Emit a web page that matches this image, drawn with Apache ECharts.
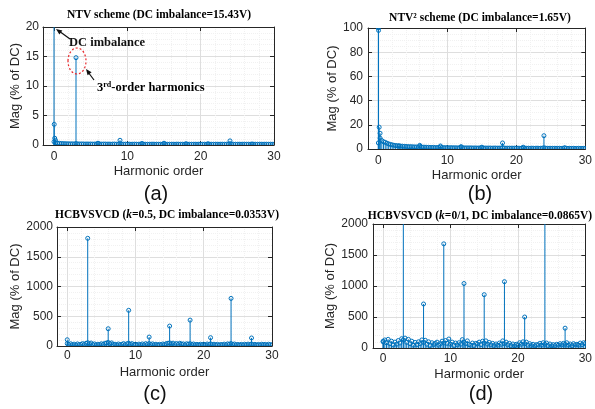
<!DOCTYPE html>
<html lang="en">
<head>
  <meta charset="UTF-8">
  <script src="https://cdn.jsdelivr.net/npm/echarts/dist/echarts.min.js"></script>
  <style>
    body { margin: 0; background: #ffffff; }
    #main { width: 595px; height: 409px; }
  </style>
</head>
<body>
  <div id="main"></div>
  <script>
    // harmonic order axis
    var harmonicStep = 0.25;          // spacing of the spectrum floor samples
    var xTicks = [0, 10, 20, 30];

    // (a) NTV scheme
    var noiseA = [
      0.55, 0.4, 0.32, 0.28,  0.26, 0.24, 0.22, 0.21,  0.2, 0.19, 0.2, 0.18,
      0.25, 0.19, 0.17, 0.18,  0.17, 0.16, 0.18, 0.16,  0.17, 0.15, 0.16, 0.17,
      0.24, 0.17, 0.15, 0.16,  0.16, 0.15, 0.16, 0.14,  0.15, 0.16, 0.14, 0.15,
      0.2, 0.15, 0.14, 0.15,  0.14, 0.15, 0.13, 0.14,  0.15, 0.14, 0.13, 0.15,
      0.2, 0.14, 0.13, 0.14,  0.13, 0.14, 0.15, 0.13,  0.14, 0.13, 0.14, 0.13,
      0.19, 0.14, 0.13, 0.14,  0.13, 0.14, 0.13, 0.15,  0.14, 0.13, 0.14, 0.13,
      0.17, 0.14, 0.13, 0.14,  0.13, 0.14, 0.13, 0.14,  0.14, 0.13, 0.14, 0.13,
      0.16, 0.14, 0.13, 0.14,  0.13, 0.14, 0.13, 0.14,  0.14, 0.13, 0.14, 0.15,
      0.18, 0.14, 0.13, 0.14,  0.13, 0.14, 0.13, 0.14,  0.14, 0.13, 0.14, 0.13,
      0.15, 0.14, 0.13, 0.14,  0.13, 0.14, 0.13, 0.14,  0.14, 0.13, 0.14, 0.13,
      0.13
    ];
    var peakXA = [0, 0.03, 0.1, 0.2, 3, 6, 9, 12, 15, 18, 21, 24, 27];
    var peakYA = [100, 3.5, 1.15, 0.8, 14.8, 0.3, 0.8, 0.25, 0.3, 0.2, 0.2, 0.7, 0.15];
    var yTicksA = [0, 5, 10, 15, 20];

    // (b) NTV^2 scheme
    var noiseB = [
      5, 9, 7, 6,  5.5, 4.8, 4.2, 3.8,  3.4, 3.1, 2.9, 2.7,
      2.6, 2.4, 2.3, 2.2,  2.1, 2.0, 1.9, 1.9,  1.8, 1.7, 1.7, 1.6,
      2.2, 1.6, 1.5, 1.5,  1.4, 1.4, 1.3, 1.3,  1.3, 1.2, 1.2, 1.2,
      1.6, 1.2, 1.1, 1.1,  1.1, 1.0, 1.1, 1.0,  1.0, 1.0, 0.9, 1.0,
      1.3, 1.0, 0.9, 0.9,  0.9, 0.9, 0.9, 0.8,  0.9, 0.8, 0.8, 0.9,
      1.1, 0.8, 0.8, 0.8,  0.8, 0.8, 0.7, 0.8,  0.8, 0.7, 0.8, 0.7,
      1.2, 0.8, 0.7, 0.7,  0.7, 0.7, 0.7, 0.7,  0.7, 0.7, 0.6, 0.7,
      0.9, 0.7, 0.6, 0.7,  0.6, 0.7, 0.6, 0.6,  0.7, 0.6, 0.6, 0.7,
      1.0, 0.7, 0.6, 0.6,  0.6, 0.6, 0.6, 0.6,  0.6, 0.6, 0.5, 0.6,
      0.8, 0.6, 0.5, 0.6,  0.5, 0.6, 0.5, 0.5,  0.6, 0.5, 0.5, 0.5,
      0.5
    ];
    var peakXB = [0, 0.03, 0.12, 0.25, 3, 6, 9, 12, 15, 18, 21, 24, 27];
    var peakYB = [100, 98, 18, 13, 2.5, 3, 2.5, 2, 1.5, 5, 1.5, 11, 1];
    var yTicksB = [0, 20, 40, 60, 80, 100];

    // (c) HCBVSVCD k=0.5
    var noiseC = [
      40, 25, 38, 20,  32, 18, 35, 22,  28, 40, 24, 45,
      55, 38, 50, 25,  35, 18, 30, 22,  38, 26, 45, 50,
      60, 40, 52, 25,  30, 18, 34, 22,  28, 40, 22, 38,
      45, 28, 40, 22,  30, 18, 32, 20,  35, 22, 40, 26,
      42, 25, 36, 20,  30, 16, 28, 22,  34, 24, 40, 45,
      52, 35, 48, 25,  42, 28, 46, 30,  36, 20, 38, 30,
      40, 25, 34, 20,  28, 16, 30, 22,  30, 18, 34, 25,
      36, 22, 30, 18,  28, 16, 26, 20,  32, 22, 36, 30,
      42, 26, 34, 20,  26, 16, 28, 18,  30, 20, 32, 24,
      34, 20, 28, 16,  26, 18, 30, 20,  28, 16, 30, 22,
      20
    ];
    var peakXC = [0, 3, 6, 9, 12, 15, 18, 21, 24, 27];
    var peakYC = [105, 1810, 290, 600, 150, 335, 435, 140, 800, 135];
    var yTicksC = [0, 500, 1000, 1500, 2000];

    // (d) HCBVSVCD k=0/1
    var noiseD = [
      100, 130, 85, 140,  70, 110, 50, 95,  60, 120, 80, 150,
      130, 160, 90, 140,  70, 110, 45, 90,  55, 100, 70, 130,
      90, 125, 60, 100,  40, 85, 55, 75,  95, 45, 70, 110,
      80, 120, 75, 145,  60, 95, 40, 80,  50, 85, 60, 135,
      95, 70, 115, 55,  45, 80, 40, 75,  65, 95, 55, 110,
      80, 115, 60, 90,  50, 75, 40, 65,  45, 80, 60, 115,
      70, 95, 50, 75,  40, 65, 35, 60,  50, 85, 60, 100,
      70, 95, 45, 70,  40, 60, 35, 55,  50, 75, 45, 85,
      60, 80, 40, 65,  35, 55, 40, 60,  45, 70, 50, 75,
      60, 85, 45, 65,  40, 70, 50, 60,  45, 80, 55, 85,
      70
    ];
    var peakXD = [0, 3, 6, 9, 12, 15, 18, 21, 24, 27];
    var peakYD = [110, 5000, 710, 1680, 1040, 860, 1070, 500, 5000, 320];
    var yTicksD = [0, 500, 1000, 1500, 2000];

    var blue = '#0072BD';
    var axisColor = '#262626';
    var sans = 'Liberation Sans, Arial, sans-serif';
    var serif = 'Liberation Serif, Times New Roman, serif';

    function stemData(noise, px, py) {
      var d = [];
      for (var i = 0; i < noise.length; i++) d.push([i * harmonicStep, noise[i]]);
      for (var j = 0; j < px.length; j++) d.push([px[j], py[j]]);
      return d;
    }

    var panels = [
      { data: stemData(noiseA, peakXA, peakYA), yTicks: yTicksA, minor: 5,
        box: { left: 43, top: 27, width: 231, height: 118 }, yGap: 19, xGap: 20, xMargin: 6, yMargin: 4 },
      { data: stemData(noiseB, peakXB, peakYB), yTicks: yTicksB, minor: 4,
        box: { left: 368, top: 28, width: 221, height: 121 }, yGap: 26, xGap: 20, xMargin: 6, yMargin: 5 },
      { data: stemData(noiseC, peakXC, peakYC), yTicks: yTicksC, minor: 5,
        box: { left: 57, top: 227, width: 215, height: 119 }, yGap: 32, xGap: 20, xMargin: 4, yMargin: 4 },
      { data: stemData(noiseD, peakXD, peakYD), yTicks: yTicksD, minor: 5,
        box: { left: 373, top: 224, width: 216, height: 124 }, yGap: 32, xGap: 20, xMargin: 5, yMargin: 5 }
    ];

    function stemRenderer(yMax) {
      return function (params, api) {
        var x = api.value(0), y = api.value(1);
        if (x > 30) return;
        var p0 = api.coord([x, 0]);
        var p1 = api.coord([x, Math.min(y, yMax)]);
        var children = [{
          type: 'line',
          shape: { x1: p0[0], y1: p0[1], x2: p1[0], y2: p1[1] },
          style: { stroke: blue, lineWidth: 1 }
        }];
        if (y <= yMax) {
          children.push({
            type: 'circle',
            shape: { cx: p1[0], cy: p1[1], r: 2 },
            style: { fill: 'none', stroke: blue, lineWidth: 1 }
          });
        }
        return { type: 'group', children: children };
      };
    }

    var grids = [], xAxes = [], yAxes = [], series = [];
    panels.forEach(function (p, i) {
      var yt = p.yTicks;
      var yMax = yt[yt.length - 1];
      grids.push({ left: p.box.left, top: p.box.top, width: p.box.width, height: p.box.height });

      xAxes.push({
        type: 'value', gridIndex: i, position: 'bottom', min: -1.5, max: 30, splitNumber: 3,
        name: 'Harmonic order', nameLocation: 'middle', nameGap: p.xGap,
        nameTextStyle: { fontFamily: sans, fontSize: 13, color: axisColor },
        axisLine: { show: true, onZero: false, lineStyle: { color: axisColor } },
        axisTick: { show: true, inside: true, length: 4, customValues: xTicks, lineStyle: { color: axisColor } },
        axisLabel: { customValues: xTicks, margin: p.xMargin, fontFamily: sans, fontSize: 12, color: axisColor,
          formatter: function (v) { return xTicks.indexOf(v) >= 0 ? String(v) : ''; } },
        splitLine: { show: true, lineStyle: { color: '#dedede' } },
        minorTick: { show: false, splitNumber: 5 },
        minorSplitLine: { show: true, lineStyle: { color: '#f1f1f1', type: 'dotted' } }
      });
      xAxes.push({
        type: 'value', gridIndex: i, position: 'top', min: -1.5, max: 30, splitNumber: 3,
        axisLine: { show: true, onZero: false, lineStyle: { color: axisColor } },
        axisTick: { show: true, inside: true, length: 4, customValues: xTicks, lineStyle: { color: axisColor } },
        axisLabel: { show: false },
        splitLine: { show: false }
      });

      yAxes.push({
        type: 'value', gridIndex: i, position: 'left', min: 0, max: yMax, interval: yt[1] - yt[0],
        name: 'Mag (% of DC)', nameLocation: 'middle', nameGap: p.yGap,
        nameTextStyle: { fontFamily: sans, fontSize: 13, color: axisColor },
        axisLine: { show: true, onZero: false, lineStyle: { color: axisColor } },
        axisTick: { show: true, inside: true, length: 4, lineStyle: { color: axisColor } },
        axisLabel: { margin: p.yMargin, fontFamily: sans, fontSize: 12, color: axisColor,
          formatter: function (v) { return String(v); } },
        splitLine: { show: true, lineStyle: { color: '#dedede' } },
        minorTick: { show: false, splitNumber: p.minor },
        minorSplitLine: { show: true, lineStyle: { color: '#f1f1f1', type: 'dotted' } }
      });
      yAxes.push({
        type: 'value', gridIndex: i, position: 'right', min: 0, max: yMax, interval: yt[1] - yt[0],
        axisLine: { show: true, onZero: false, lineStyle: { color: axisColor } },
        axisTick: { show: true, inside: true, length: 4, lineStyle: { color: axisColor } },
        axisLabel: { show: false },
        splitLine: { show: false }
      });

      series.push({
        type: 'custom', coordinateSystem: 'cartesian2d',
        xAxisIndex: 2 * i, yAxisIndex: 2 * i,
        dimensions: ['x', 'y'], encode: { x: 0, y: 1 },
        clip: true, silent: true,
        renderItem: stemRenderer(yMax),
        data: p.data
      });
    });

    var titleRich = {
      b: { fontFamily: serif, fontWeight: 'bold', fontSize: 11.5, color: '#111' },
      i: { fontFamily: serif, fontWeight: 'bold', fontStyle: 'italic', fontSize: 11.5, color: '#111' }
    };
    function titleText(x, y, text) {
      return { type: 'text', x: x, y: y, z: 100, silent: true,
        style: { text: text, rich: titleRich, align: 'center', verticalAlign: 'middle' } };
    }
    function caption(x, y, text) {
      return { type: 'text', x: x, y: y, z: 100, silent: true,
        style: { text: text, fontFamily: sans, fontSize: 20, fill: '#111', align: 'center', verticalAlign: 'middle' } };
    }

    var graphics = [
      titleText(159, 15, '{b|NTV scheme (DC imbalance=15.43V)}'),
      titleText(480, 18, '{b|NTV\u00B2 scheme (DC imbalance=1.65V)}'),
      titleText(167, 215, '{b|HCBVSVCD (}{i|k}{b|=0.5, DC imbalance=0.0353V)}'),
      titleText(480, 216, '{b|HCBVSVCD (}{i|k}{b|=0/1, DC imbalance=0.0865V)}'),
      caption(156, 194, '(a)'),
      caption(480, 194, '(b)'),
      caption(155, 394, '(c)'),
      caption(481, 394, '(d)'),
      // annotations in (a)
      { type: 'text', x: 69, y: 43, z: 100, silent: true,
        style: { text: 'DC imbalance', fontFamily: serif, fontWeight: 'bold', fontSize: 12.5, fill: '#111',
          align: 'left', verticalAlign: 'middle' } },
      { type: 'line', z: 100, silent: true, shape: { x1: 70, y1: 39, x2: 59, y2: 31 },
        style: { stroke: '#111', lineWidth: 1.2 } },
      { type: 'polygon', z: 100, silent: true, shape: { points: [[56, 29], [62.4, 30.5], [59.4, 34.5]] },
        style: { fill: '#111' } },
      { type: 'text', x: 97, y: 87, z: 100, silent: true,
        style: { text: '{a|3}{s|rd}{a|-order harmonics}', align: 'left', verticalAlign: 'middle',
          backgroundColor: '#ffffff', padding: [1, 1, 0, 0],
          rich: {
            a: { fontFamily: serif, fontWeight: 'bold', fontSize: 12.5, color: '#111' },
            s: { fontFamily: serif, fontWeight: 'bold', fontSize: 8, color: '#111', verticalAlign: 'top' }
          } } },
      { type: 'line', z: 100, silent: true, shape: { x1: 94, y1: 80, x2: 88, y2: 72 },
        style: { stroke: '#111', lineWidth: 1.2 } },
      { type: 'polygon', z: 100, silent: true, shape: { points: [[86, 69], [91.6, 72.3], [87.6, 75.3]] },
        style: { fill: '#111' } },
      { type: 'ellipse', z: 100, silent: true, shape: { cx: 77, cy: 61, rx: 9, ry: 13 },
        style: { fill: 'none', stroke: '#e8262a', lineWidth: 1.2, lineDash: [2, 2] } }
    ];

    var chart = echarts.init(document.getElementById('main'), null, { renderer: 'canvas' });
    chart.setOption({
      animation: false,
      backgroundColor: '#ffffff',
      grid: grids,
      xAxis: xAxes,
      yAxis: yAxes,
      series: series,
      graphic: graphics
    });
  </script>
</body>
</html>
